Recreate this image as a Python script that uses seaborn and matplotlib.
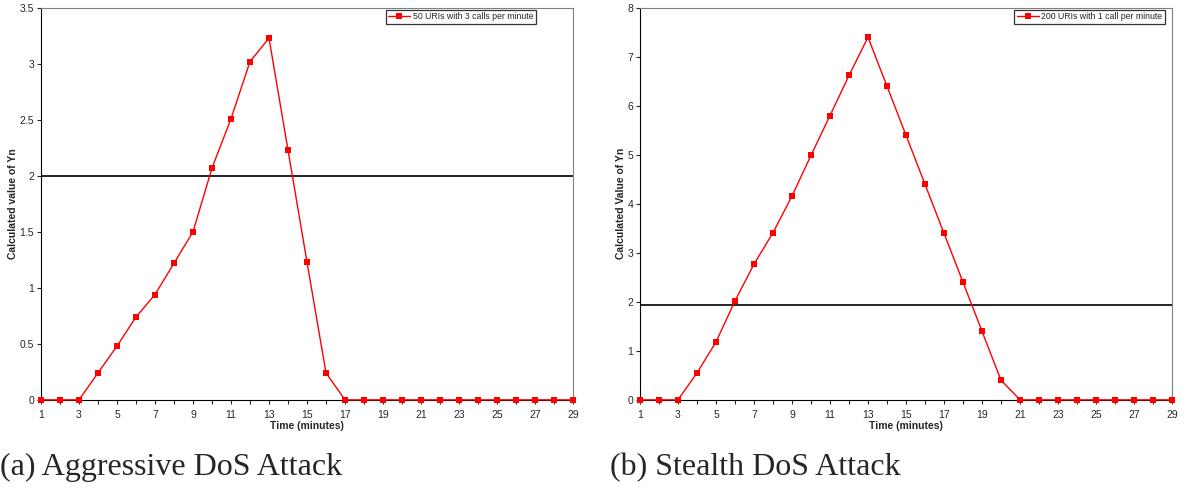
import matplotlib
matplotlib.use("Agg")
import matplotlib.pyplot as plt
import numpy as np
import pandas as pd
import seaborn as sns

minutes = list(range(1, 30))
aggressive_yn = [0, 0, 0, 0.24, 0.48, 0.74, 0.94, 1.22, 1.50, 2.07, 2.51, 3.02, 3.23,
                 2.23, 1.23, 0.24, 0, 0, 0, 0, 0, 0, 0, 0, 0, 0, 0, 0, 0]
stealth_yn = [0, 0, 0, 0.55, 1.18, 2.02, 2.77, 3.41, 4.16, 4.99, 5.80, 6.62, 7.40,
              6.40, 5.40, 4.40, 3.40, 2.40, 1.40, 0.40, 0, 0, 0, 0, 0, 0, 0, 0, 0]
aggressive_threshold = 2.0
stealth_threshold = 1.93
panels = [
    ("50 URIs with 3 calls per minute", aggressive_yn, aggressive_threshold,
     "Calculated value of Yn", 3.5, 0.5, "(a) Aggressive DoS Attack"),
    ("200 URIs with 1 call per minute", stealth_yn, stealth_threshold,
     "Calculated Value of Yn", 8, 1, "(b) Stealth DoS Attack"),
]

sns.set_style("ticks")
plt.rcParams["font.family"] = ["Liberation Sans", "DejaVu Sans"]

fig = plt.figure(figsize=(11.89, 4.9), dpi=100)
lefts = [41 / 1189, 640 / 1189]
caption_x = [0.0, 610 / 1189]
legend_right = [0.93, 0.987]

for i, (label, values, thr, ylabel, ymax, ystep, caption) in enumerate(panels):
    ax = fig.add_axes([lefts[i], 0.184, 532 / 1189, 0.800])
    df = pd.DataFrame({"Time": minutes, "Yn": values})
    sns.lineplot(data=df, x="Time", y="Yn", ax=ax, color="#ff0000", marker="s",
                 markersize=4.5, markeredgewidth=0, linewidth=1, label=label,
                 clip_on=False, zorder=3)
    ax.axhline(thr, color="black", linewidth=1.2)
    ax.set_xlim(1, 29)
    ax.set_ylim(0, ymax)
    ax.set_xticks(minutes)
    ax.set_xticklabels([str(m) if m % 2 == 1 else "" for m in minutes])
    yticks = np.arange(0, ymax + ystep / 2, ystep)
    ax.set_yticks(yticks)
    ax.set_yticklabels([f"{v:g}" for v in yticks])
    ax.tick_params(axis="x", labelsize=7.5, length=3, width=0.8, pad=4)
    ax.tick_params(axis="y", labelsize=7.5, length=3, width=0.8, pad=2)
    ax.set_xlabel("Time (minutes)", fontsize=7.5, fontweight="bold", labelpad=1)
    ax.set_ylabel(ylabel, fontsize=7.5, fontweight="bold", labelpad=1)
    for side in ["left", "bottom"]:
        ax.spines[side].set_color("black")
        ax.spines[side].set_linewidth(0.8)
    for side in ["top", "right"]:
        ax.spines[side].set_visible(True)
        ax.spines[side].set_color("#808080")
        ax.spines[side].set_linewidth(0.8)
    leg = ax.legend(loc="upper right", fontsize=6.3, frameon=True, fancybox=False,
                    borderpad=0.3, handlelength=2.5, handletextpad=0.3,
                    borderaxespad=0, bbox_to_anchor=(legend_right[i], 0.995))
    leg.get_frame().set_edgecolor("black")
    leg.get_frame().set_linewidth(0.9)
    fig.text(caption_x[i], 0.045, caption, fontsize=23,
             family=["Liberation Serif", "DejaVu Serif"], ha="left", va="center")

fig.savefig("out.png", dpi=100)
